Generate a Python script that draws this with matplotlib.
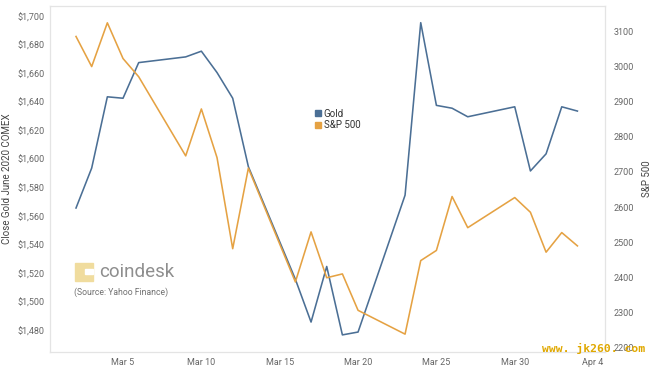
import matplotlib
matplotlib.use('Agg')
import matplotlib.pyplot as plt
from matplotlib.lines import Line2D
from matplotlib.patches import Rectangle
from matplotlib.ticker import FuncFormatter
import pandas as pd

# data (March 2020 trading days)
dates = ['2020-03-02', '2020-03-03', '2020-03-04', '2020-03-05', '2020-03-06',
         '2020-03-09', '2020-03-10', '2020-03-11', '2020-03-12', '2020-03-13',
         '2020-03-16', '2020-03-17', '2020-03-18', '2020-03-19', '2020-03-20',
         '2020-03-23', '2020-03-24', '2020-03-25', '2020-03-26', '2020-03-27',
         '2020-03-30', '2020-03-31', '2020-04-01', '2020-04-02', '2020-04-03']
gold = [1566, 1594, 1644, 1643, 1668,
        1672, 1676, 1661, 1643, 1595,
        1516, 1486, 1525, 1477, 1479,
        1575, 1696, 1638, 1636, 1630,
        1637, 1592, 1604, 1637, 1634]
spx = [3087, 3001, 3126, 3024, 2972,
       2746, 2880, 2741, 2481, 2711,
       2386, 2529, 2398, 2409, 2305,
       2237, 2447, 2476, 2630, 2541,
       2627, 2585, 2471, 2527, 2489]
tick_dates = ['2020-03-05', '2020-03-10', '2020-03-15', '2020-03-20',
              '2020-03-25', '2020-03-30', '2020-04-04']
tick_labels = ['Mar 5', 'Mar 10', 'Mar 15', 'Mar 20', 'Mar 25', 'Mar 30', 'Apr 4']
gold_ticks = list(range(1480, 1701, 20))
spx_ticks = list(range(2200, 3101, 100))

plt.rcParams['font.family'] = ['Roboto', 'DejaVu Sans']

W, H = 656, 371
BLUE = '#4b6f95'
ORANGE = '#e5a243'
TXT = '#666666'
GRID = '#e4e4e4'

x = pd.to_datetime(dates)

fig = plt.figure(figsize=(W / 100, H / 100), dpi=100)
ax = fig.add_axes([50 / W, 1 - 352 / H, 555 / W, 346 / H])
ax2 = ax.twinx()

ax.plot(x, gold, color=BLUE, lw=1.15)
ax2.plot(x, spx, color=ORANGE, lw=1.15)

ax.set_ylim(1465, 1707.7)
ax2.set_ylim(2186, 3174)
ax.set_xlim(pd.Timestamp('2020-03-02') - pd.Timedelta(days=1.66),
            pd.Timestamp('2020-03-02') + pd.Timedelta(days=33.76))

ax.set_xticks(pd.to_datetime(tick_dates))
ax.set_xticklabels(tick_labels)
ax.set_yticks(gold_ticks)
ax.yaxis.set_major_formatter(FuncFormatter(lambda v, p: '${:,.0f}'.format(v)))
ax2.set_yticks(spx_ticks)

ax.tick_params(axis='x', length=0, pad=4, labelsize=6.5, labelcolor=TXT)
ax.tick_params(axis='y', length=0, pad=4, labelsize=6.5, labelcolor=TXT)
ax2.tick_params(axis='y', length=0, pad=6, labelsize=6.5, labelcolor=TXT)

for a in (ax, ax2):
    for s in a.spines.values():
        s.set_color(GRID)
        s.set_linewidth(0.8)

ax.set_ylabel('Close Gold June 2020 COMEX', fontsize=7, color='#444444', labelpad=4)
ax2.set_ylabel('S&P 500', fontsize=7, color='#444444', labelpad=6)

# legend
handles = [Line2D([], [], marker='s', ls='', color=BLUE, markersize=4.5),
           Line2D([], [], marker='s', ls='', color=ORANGE, markersize=4.5)]
fig.legend(handles, ['Gold', 'S&P 500'], loc='upper left',
           bbox_to_anchor=(308 / W, 1 - 104 / H), frameon=False,
           fontsize=7, handletextpad=0.1, labelspacing=0.15, borderpad=0,
           handlelength=1.0, labelcolor='#333333')

# coindesk logo
logo = '#f0dc9e'
fig.patches.append(Rectangle((75 / W, 1 - 281 / H), 18 / W, 18 / H,
                             transform=fig.transFigure, color=logo, zorder=5))
fig.patches.append(Rectangle((85 / W, 1 - 274 / H), 8 / W, 5 / H,
                             transform=fig.transFigure, color='white', zorder=6))
fig.text(99 / W, 1 - 272 / H, 'coindesk', fontsize=13.5, color='#8e8e8e',
         va='center', ha='left')
fig.text(74 / W, 1 - 292 / H, '(Source: Yahoo Finance)', fontsize=6.2,
         color='#707070', va='center', ha='left')

# site watermark
fig.text(542 / W, 1 - 348 / H, 'www. jk260. com', fontsize=8.2, color='#e0a800',
         family='DejaVu Sans Mono', weight='bold', va='center', ha='left')

fig.savefig('out.png', dpi=100, facecolor='white')
